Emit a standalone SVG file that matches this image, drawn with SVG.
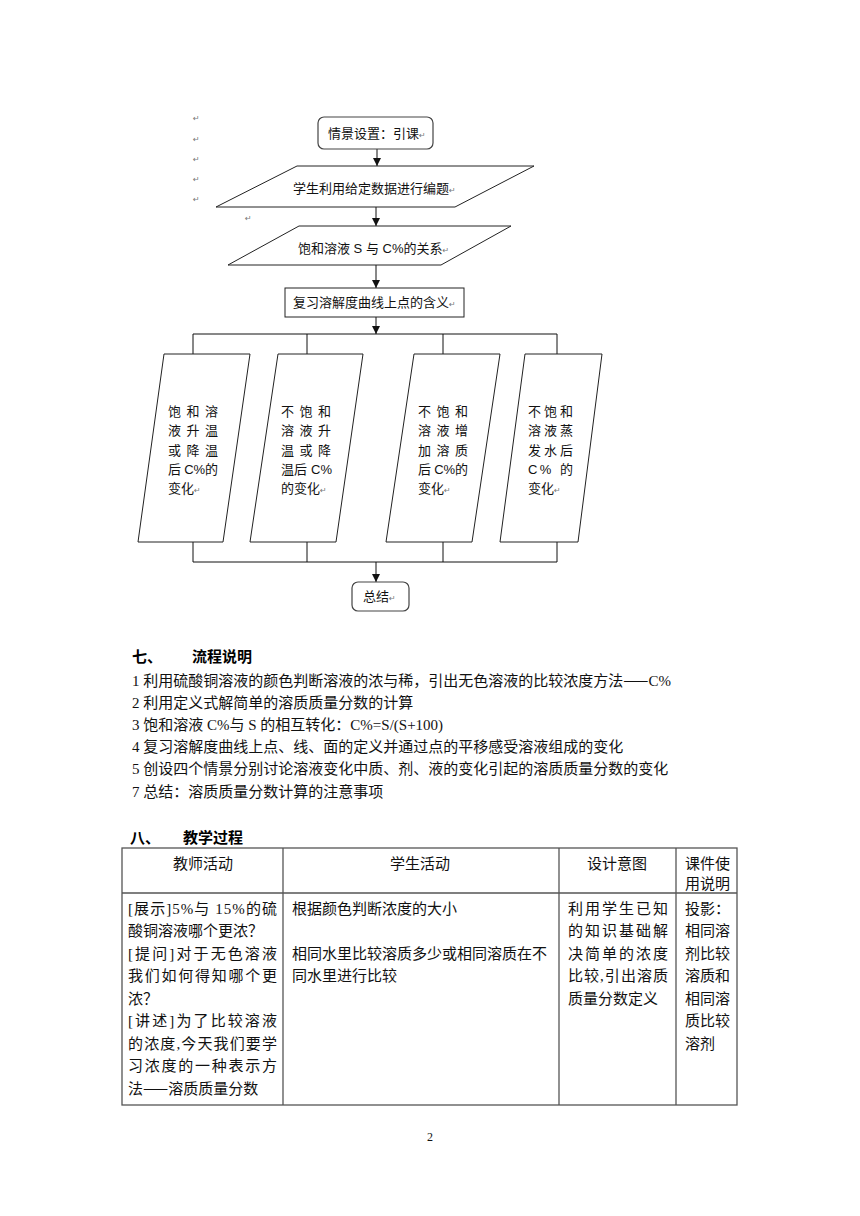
<svg xmlns="http://www.w3.org/2000/svg" width="860" height="1216" viewBox="0 0 860 1216">
<style>
.bg{fill:#fff}
.shape{fill:#fff;stroke:#222;stroke-width:1}
.rbox{fill:#fff;stroke:#444;stroke-width:1.2}
.conn{fill:none;stroke:#111;stroke-width:1}
.ft{font-family:'Liberation Sans','Noto Sans CJK SC',sans-serif;font-size:13px;fill:#111}
.rt{font-family:'DejaVu Sans',sans-serif;font-size:8px;fill:#777}
.bt{font-family:'Liberation Serif','Noto Sans CJK SC',serif;font-size:15px;fill:#111}
.hd{font-family:'Liberation Serif','Noto Sans CJK SC',serif;font-size:15px;font-weight:bold;fill:#000}
.cjk{font-family:'Noto Sans CJK SC',sans-serif}
.tbl{fill:none;stroke:#555;stroke-width:1.3}
</style>
<defs>
<marker id="ah" markerWidth="8" markerHeight="8" refX="8" refY="4" orient="auto" markerUnits="userSpaceOnUse">
<path d="M0,0 L8,4 L0,8 z" fill="#111"/>
</marker>
</defs>
<rect class="bg" x="0" y="0" width="860" height="1216"/>

<g id="return-marks" class="rt">
<text x="193" y="121">↵</text>
<text x="193" y="142">↵</text>
<text x="193" y="162">↵</text>
<text x="193" y="182">↵</text>
<text x="193" y="202">↵</text>
<text x="245" y="221">↵</text>
</g>

<g id="connectors">
<line class="conn" x1="377" y1="149" x2="377" y2="166" marker-end="url(#ah)"/>
<line class="conn" x1="376" y1="207" x2="376" y2="226" marker-end="url(#ah)"/>
<line class="conn" x1="376" y1="265" x2="376" y2="288" marker-end="url(#ah)"/>
<line class="conn" x1="376" y1="317" x2="376" y2="334" marker-end="url(#ah)"/>
<path class="conn" d="M193,354 V334 H557 V354 M307,334 V354 M443,334 V354"/>
<path class="conn" d="M193,542 V562 H557 V542 M307,542 V562 M443,542 V562"/>
<line class="conn" x1="376" y1="562" x2="376" y2="582" marker-end="url(#ah)"/>
</g>

<g id="n-start">
<rect class="rbox" x="318" y="117" width="115" height="32" rx="6"/>
<text class="ft" x="328" y="138">情景设置：引课<tspan class="rt">↵</tspan></text>
</g>
<g id="n-compose">
<polygon class="shape" points="297,166 534,166 455,207 216,207"/>
<text class="ft" x="293" y="193">学生利用给定数据进行编题<tspan class="rt">↵</tspan></text>
</g>
<g id="n-relation">
<polygon class="shape" points="299,226 511,226 441,265 228,265"/>
<text class="ft" x="298" y="253">饱和溶液 S 与 C%的关系<tspan class="rt">↵</tspan></text>
</g>
<g id="n-review">
<rect class="shape" x="285" y="288" width="179" height="29"/>
<text class="ft" x="293" y="307">复习溶解度曲线上点的含义<tspan class="rt">↵</tspan></text>
</g>

<g id="n-case1">
<polygon class="shape" points="164,354 250,354 223,542 138,542"/>
<text class="ft" x="168" y="415.5" textLength="50" lengthAdjust="spacing">饱和溶</text>
<text class="ft" x="168" y="435" textLength="50" lengthAdjust="spacing">液升温</text>
<text class="ft" x="168" y="454.5" textLength="50" lengthAdjust="spacing">或降温</text>
<text class="ft" x="168" y="474" textLength="50" lengthAdjust="spacing">后 C%的</text>
<text class="ft" x="168" y="493">变化<tspan class="rt">↵</tspan></text>
</g>
<g id="n-case2">
<polygon class="shape" points="278,354 363,354 336,542 250,542"/>
<text class="ft" x="281" y="415.5" textLength="50" lengthAdjust="spacing">不饱和</text>
<text class="ft" x="281" y="435" textLength="50" lengthAdjust="spacing">溶液升</text>
<text class="ft" x="281" y="454.5" textLength="50" lengthAdjust="spacing">温或降</text>
<text class="ft" x="281" y="474" textLength="51" lengthAdjust="spacing">温后 C%</text>
<text class="ft" x="281" y="493">的变化<tspan class="rt">↵</tspan></text>
</g>
<g id="n-case3">
<polygon class="shape" points="414,354 500,354 472,542 386,542"/>
<text class="ft" x="418" y="415.5" textLength="50" lengthAdjust="spacing">不饱和</text>
<text class="ft" x="418" y="435" textLength="50" lengthAdjust="spacing">溶液增</text>
<text class="ft" x="418" y="454.5" textLength="50" lengthAdjust="spacing">加溶质</text>
<text class="ft" x="418" y="474" textLength="50" lengthAdjust="spacing">后 C%的</text>
<text class="ft" x="418" y="493">变化<tspan class="rt">↵</tspan></text>
</g>
<g id="n-case4">
<polygon class="shape" points="525,354 602,354 578,542 500,542"/>
<text class="ft" x="528" y="415.5" textLength="45" lengthAdjust="spacing">不饱和</text>
<text class="ft" x="528" y="435" textLength="45" lengthAdjust="spacing">溶液蒸</text>
<text class="ft" x="528" y="454.5" textLength="45" lengthAdjust="spacing">发水后</text>
<text class="ft" x="528" y="474" textLength="45" lengthAdjust="spacing">C%  的</text>
<text class="ft" x="528" y="493">变化<tspan class="rt">↵</tspan></text>
</g>
<g id="n-end">
<rect class="rbox" x="352" y="582" width="57" height="29" rx="6"/>
<text class="ft" x="363" y="601">总结<tspan class="rt">↵</tspan></text>
</g>

<g id="section-7">
<text class="hd" x="132" y="661.5">七、</text>
<text class="hd" x="192" y="661.5">流程说明</text>
<text class="bt" x="132" y="685.5">1 利用硫酸铜溶液的颜色判断溶液的浓与稀，引出无色溶液的比较浓度方法<tspan class="cjk">——</tspan>C%</text>
<text class="bt" x="132" y="707.5">2 利用定义式解简单的溶质质量分数的计算</text>
<text class="bt" x="132" y="729.5">3 饱和溶液 C%与 S 的相互转化：C%=S/(S+100)</text>
<text class="bt" x="132" y="751.5">4 复习溶解度曲线上点、线、面的定义并通过点的平移感受溶液组成的变化</text>
<text class="bt" x="132" y="773.5">5 创设四个情景分别讨论溶液变化中质、剂、液的变化引起的溶质质量分数的变化</text>
<text class="bt" x="132" y="796.5">7 总结：溶质质量分数计算的注意事项</text>
</g>

<g id="section-8">
<text class="hd" x="130" y="842.5">八、</text>
<text class="hd" x="183" y="842.5">教学过程</text>
<g id="table">
<rect class="tbl" x="122" y="848" width="615" height="257"/>
<line class="tbl" x1="122" y1="893" x2="737" y2="893"/>
<line class="tbl" x1="283" y1="848" x2="283" y2="1105"/>
<line class="tbl" x1="559" y1="848" x2="559" y2="1105"/>
<line class="tbl" x1="676" y1="848" x2="676" y2="1105"/>
</g>
<text class="bt" x="203" y="868.5" text-anchor="middle">教师活动</text>
<text class="bt" x="420" y="868.5" text-anchor="middle">学生活动</text>
<text class="bt" x="617" y="868.5" text-anchor="middle">设计意图</text>
<text class="bt" x="685" y="868.5">课件使</text>
<text class="bt" x="685" y="888.5">用说明</text>

<text class="bt" x="128" y="913.5" textLength="149" lengthAdjust="spacing">[展示]5%与 15%的硫</text>
<text class="bt" x="128" y="936">酸铜溶液哪个更浓？</text>
<text class="bt" x="128" y="958.5" textLength="149" lengthAdjust="spacing">[提问]对于无色溶液</text>
<text class="bt" x="128" y="981" textLength="149" lengthAdjust="spacing">我们如何得知哪个更</text>
<text class="bt" x="128" y="1003.5">浓？</text>
<text class="bt" x="128" y="1026" textLength="149" lengthAdjust="spacing">[讲述]为了比较溶液</text>
<text class="bt" x="128" y="1048.5" textLength="149" lengthAdjust="spacing">的浓度,今天我们要学</text>
<text class="bt" x="128" y="1071" textLength="149" lengthAdjust="spacing">习浓度的一种表示方</text>
<text class="bt" x="128" y="1093.5">法<tspan class="cjk">——</tspan>溶质质量分数</text>

<text class="bt" x="292" y="913.5">根据颜色判断浓度的大小</text>
<text class="bt" x="292" y="958.5">相同水里比较溶质多少或相同溶质在不</text>
<text class="bt" x="292" y="981">同水里进行比较</text>

<text class="bt" x="568" y="913.5" textLength="100" lengthAdjust="spacing">利用学生已知</text>
<text class="bt" x="568" y="936" textLength="100" lengthAdjust="spacing">的知识基础解</text>
<text class="bt" x="568" y="958.5" textLength="100" lengthAdjust="spacing">决简单的浓度</text>
<text class="bt" x="568" y="981" textLength="100" lengthAdjust="spacing">比较,引出溶质</text>
<text class="bt" x="568" y="1003.5">质量分数定义</text>

<text class="bt" x="685" y="913.5">投影：</text>
<text class="bt" x="685" y="936">相同溶</text>
<text class="bt" x="685" y="958.5">剂比较</text>
<text class="bt" x="685" y="981">溶质和</text>
<text class="bt" x="685" y="1003.5">相同溶</text>
<text class="bt" x="685" y="1026">质比较</text>
<text class="bt" x="685" y="1048.5">溶剂</text>
</g>

<text class="bt" x="430" y="1141" text-anchor="middle" style="font-size:12px">2</text>
</svg>
